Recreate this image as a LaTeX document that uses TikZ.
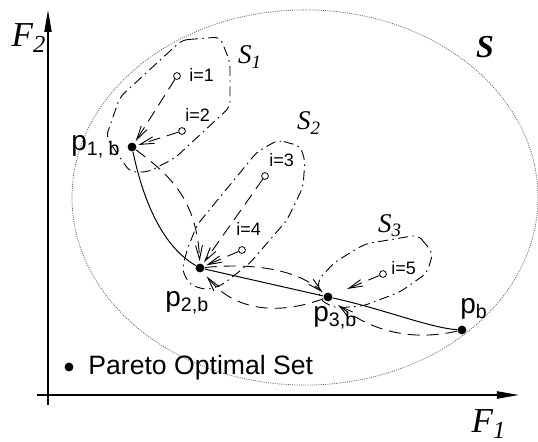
\documentclass[tikz,border=0pt]{standalone}
\usepackage{fontspec}
\setmainfont{Liberation Sans}
\newfontfamily\tms{Liberation Serif}
\usetikzlibrary{arrows.meta, positioning}

\begin{document}
\begin{tikzpicture}[x=0.5pt, y=-0.5pt,
    dot/.style={circle, fill=black, inner sep=0pt, minimum size=4.4pt},
    odot/.style={circle, draw, fill=white, line width=0.4pt, inner sep=0pt, minimum size=3.4pt},
    ilabel/.style={anchor=base west, inner sep=0pt, font=\fontsize{9}{10}\selectfont},
    plabel/.style={anchor=base west, inner sep=0pt, font=\fontsize{14}{16}\selectfont},
    slabel/.style={inner sep=0pt, font=\tms\itshape\fontsize{13.5}{15}\selectfont},
    axis/.style={line width=0.75pt, -{Triangle[length=11pt, width=3.6pt]}},
    region/.style={line width=0.45pt, rounded corners=3pt, dash pattern=on 5pt off 2.2pt on 0.8pt off 2.2pt},
    move/.style={line width=0.45pt, dash pattern=on 6pt off 3.5pt, -{Straight Barb[length=7pt, width=3.4pt]}, shorten >=1pt},
    front/.style={line width=0.5pt}
]
\useasboundingbox (0,0) rectangle (538,442);

% objective space
\draw[axis] (48,405) -- (48,10);
\draw[axis] (37,395) -- (519,395);
\node[inner sep=0pt, font=\tms\itshape\fontsize{17.5}{19}\selectfont] (f2) at (29,38) {F\textsubscript{2}};
\node[inner sep=0pt, font=\tms\itshape\fontsize{17.5}{19}\selectfont] (f1) at (489,424) {F\textsubscript{1}};
\draw[line width=0.4pt, gray!80!black, dash pattern=on 0.5pt off 0.6pt] (305,197.5) ellipse [x radius=116.5pt, y radius=93.8pt];
\node[inner sep=0pt, font=\tms\bfseries\itshape\fontsize{16}{18}\selectfont] (s) at (485,47) {S};

% subsets
\draw[region] (182,40) -- (220,37) -- (230,62) -- (230,107) -- (175,158) -- (148,172) -- (130,172) -- (106,137) -- (120,97) -- cycle;
\draw[region] (278,140) -- (300,146) -- (305,160) -- (303,187) -- (287,220) -- (250,263) -- (222,285) -- (207,290) -- (190,285) -- (182,270) -- (187,250) -- (197,225) -- (257,152) -- cycle;
\draw[region] (418,235) -- (433,253) -- (427,273) -- (400,292) -- (363,306) -- (335,308) -- (320,300) -- (318,280) -- (335,262) -- (365,244) -- cycle;
\node[slabel] (s1) at (250,57) {S\textsubscript{1}};
\node[slabel] (s2) at (309,123) {S\textsubscript{2}};
\node[slabel] (s3) at (390,226) {S\textsubscript{3}};

% points
\node[dot] (p1b) at (132,147) {};
\node[dot] (p2b) at (200,268) {};
\node[dot] (p3b) at (328,297) {};
\node[dot] (pb) at (462,330) {};
\node[odot] (i1) at (177,76) {};
\node[odot] (i2) at (182,131) {};
\node[odot] (i3) at (265,176) {};
\node[odot] (i4) at (242,250) {};
\node[odot] (i5) at (383,274) {};

\node[ilabel] (li1) at (189,82) {i=1};
\node[ilabel] (li2) at (185,122) {i=2};
\node[ilabel] (li3) at (269,167) {i=3};
\node[ilabel] (li4) at (236,236) {i=4};
\node[ilabel] (li5) at (391,275) {i=5};
\node[plabel] (lp1b) at (71,151) {p\textsubscript{1, b}};
\node[plabel] (lp2b) at (165,307) {p\textsubscript{2,b}};
\node[plabel] (lp3b) at (313,322) {p\textsubscript{3,b}};
\node[plabel] (lpb) at (460,314) {p\textsubscript{b}};

% Pareto front
\draw[front] (p1b) .. controls (142,195) and (160,245) .. (p2b);
\draw[front] (p2b) -- (p3b);
\draw[front] (p3b) .. controls (380,308) and (430,328) .. (pb);

% moves
\draw[move] (i1) -- (p1b);
\draw[move] (i2) -- (p1b);
\draw[move] (p1b) .. controls (170,175) and (197,200) .. (p2b);
\draw[move] (i3) -- (p2b);
\draw[move] (i4) -- (p2b);
\draw[move] (p2b) .. controls (260,262) and (300,272) .. (p3b);
\draw[move, shorten >=8pt] (i5) -- (p3b);
\draw[move, shorten >=4pt] (pb) .. controls (410,342) and (370,330) .. (p3b);
\draw[move, shorten >=3pt] (p3b) .. controls (280,315) and (235,312) .. (p2b);

% legend
\node[dot] (leg) at (69,367) {};
\node[anchor=base west, inner sep=0pt, font=\fontsize{13.3}{15}\selectfont] (legtext) at (88,375) {Pareto Optimal Set};
\end{tikzpicture}
\end{document}
